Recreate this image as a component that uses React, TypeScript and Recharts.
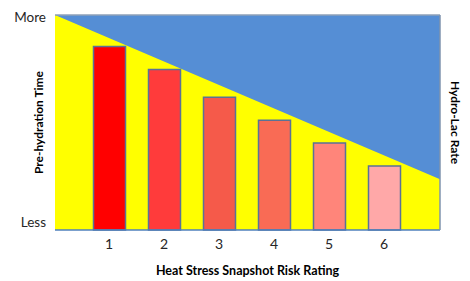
import React from "react";
import {
  ComposedChart,
  Bar,
  Area,
  XAxis,
  YAxis,
  CartesianGrid,
  Cell,
  ReferenceLine,
} from "recharts";

// ---- data ----
const ratings = [1, 2, 3, 4, 5, 6];
const barValues = [85.3, 74.6, 61.7, 51.0, 40.5, 29.8];
const barColors = ["#FF0000", "#FF3B3B", "#F55A4A", "#F96B55", "#FF857A", "#FFA8A8"];
const triangleX = [0, 7];
const triangleLow = [100, 23.6];
const triangleHigh = [100, 100];
const yTicks = [0, 100];
const yTickLabels = ["Less", "More"];
const xTitle = "Heat Stress Snapshot Risk Rating";
const leftTitle = "Pre-hydration Time";
const rightTitle = "Hydro-Lac Rate";

const data = [
  { x: triangleX[0], tri: [triangleLow[0], triangleHigh[0]] },
  ...ratings.map((r, i) => ({ x: r, v: barValues[i] })),
  { x: triangleX[1], tri: [triangleLow[1], triangleHigh[1]] },
];

const FONT = "Lato, 'Noto Sans', sans-serif";
const TEXT = "#262626";

const labelFor = (v: number) => yTickLabels[yTicks.indexOf(v)];

const LeftTick = (props: any) => {
  const { x, y, payload } = props;
  const dy = payload.value === 0 ? -8 : 1.5;
  return (
    <text x={x - 1} y={y + dy} textAnchor="end" dominantBaseline="central" fontFamily={FONT} fontSize={13.5} fill={TEXT}>
      {labelFor(payload.value)}
    </text>
  );
};

const RightTick = (props: any) => {
  const { x, y, payload } = props;
  const dy = payload.value === 0 ? -8 : 1.5;
  return (
    <text x={x - 3} y={y + dy} textAnchor="start" dominantBaseline="central" fontFamily={FONT} fontSize={13.5} fill={TEXT}>
      {labelFor(payload.value)}
    </text>
  );
};

const BottomTick = (props: any) => {
  const { x, y, payload } = props;
  return (
    <text x={x - 1} y={y + 5} textAnchor="middle" dominantBaseline="central" fontFamily={FONT} fontSize={14} fill={TEXT}>
      {payload.value}
    </text>
  );
};

const LeftTitle = (props: any) => {
  const vb = props.viewBox || {};
  const cx = vb.x + 38;
  const cy = vb.y + vb.height / 2;
  return (
    <text x={cx} y={cy} transform={`rotate(-90 ${cx} ${cy})`} textAnchor="middle" dominantBaseline="central" fontFamily={FONT} fontWeight="bold" fontSize={12} fill="#000">
      {leftTitle}
    </text>
  );
};

const RightTitle = (props: any) => {
  const vb = props.viewBox || {};
  const cx = vb.x + 15;
  const cy = vb.y + vb.height / 2;
  return (
    <text x={cx} y={cy} transform={`rotate(90 ${cx} ${cy})`} textAnchor="middle" dominantBaseline="central" fontFamily={FONT} fontWeight="bold" fontSize={12} fill="#000">
      {rightTitle}
    </text>
  );
};

const BottomTitle = (props: any) => {
  const vb = props.viewBox || {};
  const cx = vb.x + vb.width / 2;
  const cy = vb.y + 40;
  return (
    <text x={cx} y={cy} textAnchor="middle" dominantBaseline="central" fontFamily={FONT} fontWeight="bold" fontSize={12.5} fill="#000">
      {xTitle}
    </text>
  );
};

export default function App() {
  return (
    <div style={{ position: "absolute", left: 0, top: 0, width: 470, height: 281, background: "#fff" }}>
      <ComposedChart width={470} height={281} data={data} margin={{ top: 15, right: 0, bottom: 0, left: 0 }}>
        <CartesianGrid horizontal={false} vertical={false} fill="#FFFF00" />
        <XAxis
          xAxisId="x"
          type="number"
          dataKey="x"
          domain={[0, 7]}
          ticks={ratings}
          height={51}
          tickLine={false}
          axisLine={{ stroke: "#4F81BD", strokeWidth: 1.5 }}
          tick={<BottomTick />}
          label={<BottomTitle />}
        />
        <YAxis
          yAxisId="l"
          orientation="left"
          domain={[0, 100]}
          ticks={yTicks}
          width={55}
          tickLine={false}
          axisLine={false}
          tick={<LeftTick />}
          label={<LeftTitle />}
        />
        <YAxis
          yAxisId="r"
          orientation="right"
          domain={[0, 100]}
          ticks={yTicks}
          width={30}
          tickLine={false}
          axisLine={{ stroke: "#7F93AE", strokeWidth: 1.5 }}
          tick={<RightTick />}
          label={<RightTitle />}
        />
        <Area
          xAxisId="x"
          yAxisId="l"
          dataKey="tri"
          connectNulls
          type="linear"
          fill="#558ED5"
          fillOpacity={1}
          stroke="none"
          isAnimationActive={false}
        />
        <ReferenceLine xAxisId="x" yAxisId="l" y={100} stroke="#8EA0B8" strokeWidth={1.5} />
        <Bar xAxisId="x" yAxisId="l" dataKey="v" barSize={32} stroke="#5A7296" strokeWidth={1.5} isAnimationActive={false}>
          {data.map((d, i) => (
            <Cell key={i} fill={d.v !== undefined ? barColors[ratings.indexOf(d.x)] : "none"} />
          ))}
        </Bar>
      </ComposedChart>
    </div>
  );
}
